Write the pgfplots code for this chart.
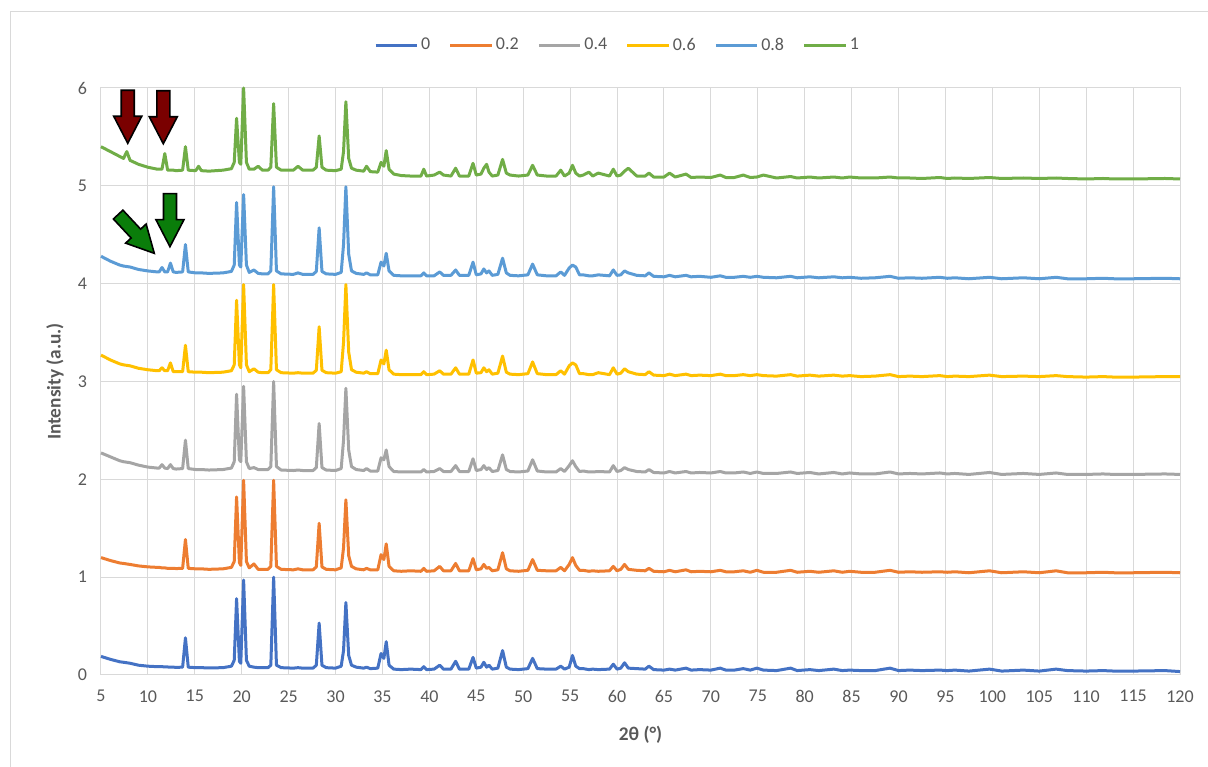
\documentclass[border=0pt]{standalone}
\usepackage{fontspec}
\setmainfont{Carlito}
\usepackage{pgfplots}
\usepackage{pgfplotstable}
\pgfplotsset{compat=1.18}
\definecolor{cA}{HTML}{4472C4}
\definecolor{cB}{HTML}{ED7D31}
\definecolor{cC}{HTML}{A5A5A5}
\definecolor{cD}{HTML}{FFC000}
\definecolor{cE}{HTML}{5B9BD5}
\definecolor{cF}{HTML}{70AD47}
\definecolor{gridgray}{HTML}{D9D9D9}
\definecolor{tickgray}{HTML}{595959}
\definecolor{arrred}{HTML}{7A0000}
\definecolor{arrgreen}{HTML}{0A7D0A}

\pgfplotstableread{
x a b c d e f
5 0.19 1.20 2.27 3.27 4.28 5.40
6 0.16 1.17 2.23 3.22 4.23 5.35
7 0.135 1.145 2.19 3.18 4.19 5.30
7.4 0.13 1.14 2.18 3.17 4.18 5.28
7.75 0.125 1.135 2.175 3.165 4.175 5.35
8.1 0.12 1.13 2.17 3.16 4.17 5.26
9 0.10 1.115 2.145 3.135 4.145 5.22
10 0.09 1.105 2.125 3.12 4.13 5.19
11 0.085 1.10 2.115 3.11 4.12 5.17
11.2 0.085 1.10 2.115 3.11 4.12 5.17
11.5 0.085 1.095 2.15 3.14 4.165 5.17
11.8 0.083 1.095 2.115 3.11 4.12 5.33
12.1 0.082 1.09 2.11 3.11 4.12 5.16
12.4 0.08 1.09 2.15 3.19 4.21 5.16
12.7 0.08 1.09 2.11 3.10 4.12 5.16
13 0.078 1.088 2.105 3.10 4.115 5.155
13.7 0.08 1.09 2.11 3.10 4.12 5.16
14.0 0.38 1.385 2.40 3.37 4.40 5.40
14.3 0.08 1.09 2.11 3.10 4.12 5.16
15.1 0.075 1.085 2.10 3.095 4.11 5.155
15.4 0.075 1.085 2.10 3.095 4.11 5.20
15.7 0.075 1.085 2.10 3.095 4.11 5.155
16.5 0.072 1.08 2.095 3.09 4.105 5.15
18 0.075 1.085 2.10 3.095 4.11 5.16
18.9 0.09 1.10 2.115 3.11 4.125 5.175
19.2 0.15 1.16 2.18 3.17 4.19 5.24
19.45 0.78 1.82 2.87 3.83 4.83 5.69
19.75 0.14 1.15 2.20 3.17 4.19 5.24
19.9 0.12 1.12 2.18 3.14 4.17 5.22
20.2 0.97 1.99 2.95 3.99 4.91 6.0
20.5 0.15 1.16 2.18 3.17 4.19 5.24
20.8 0.09 1.095 2.11 3.10 4.115 5.17
21.3 0.08 1.135 2.12 3.13 4.14 5.17
21.75 0.075 1.08 2.10 3.095 4.105 5.20
22.2 0.075 1.08 2.10 3.09 4.10 5.16
22.8 0.075 1.08 2.10 3.09 4.10 5.16
23.1 0.10 1.11 2.13 3.12 4.13 5.19
23.4 1.0 1.99 3.0 3.99 4.99 5.84
23.7 0.10 1.11 2.13 3.12 4.13 5.19
24.2 0.075 1.08 2.095 3.09 4.10 5.16
25.5 0.07 1.075 2.09 3.085 4.095 5.16
26.0 0.075 1.085 2.095 3.09 4.11 5.20
26.5 0.07 1.075 2.09 3.085 4.095 5.16
27.6 0.07 1.075 2.09 3.085 4.095 5.16
27.95 0.10 1.105 2.12 3.115 4.125 5.19
28.25 0.53 1.55 2.57 3.56 4.57 5.51
28.55 0.10 1.105 2.12 3.115 4.125 5.19
29 0.075 1.08 2.095 3.09 4.10 5.16
30 0.07 1.075 2.09 3.085 4.095 5.155
30.6 0.09 1.095 2.11 3.10 4.115 5.17
30.85 0.25 1.30 2.40 3.40 4.40 5.35
31.1 0.74 1.79 2.93 3.99 4.99 5.86
31.4 0.20 1.22 2.30 3.30 4.30 5.28
31.7 0.10 1.11 2.13 3.12 4.13 5.18
32.2 0.08 1.085 2.10 3.095 4.105 5.16
33.0 0.07 1.075 2.09 3.085 4.095 5.15
33.3 0.08 1.09 2.11 3.10 4.11 5.20
33.7 0.065 1.075 2.085 3.08 4.09 5.145
34.5 0.07 1.075 2.085 3.08 4.09 5.14
34.85 0.22 1.23 2.22 3.22 4.22 5.24
35.15 0.17 1.18 2.20 3.18 4.18 5.20
35.4 0.34 1.34 2.30 3.32 4.31 5.36
35.7 0.10 1.11 2.13 3.12 4.13 5.17
36.2 0.06 1.065 2.08 3.075 4.085 5.12
37 0.055 1.06 2.075 3.07 4.08 5.105
38 0.06 1.065 2.075 3.07 4.08 5.10
39.1 0.055 1.06 2.075 3.07 4.08 5.10
39.4 0.085 1.09 2.10 3.10 4.11 5.17
39.7 0.055 1.06 2.075 3.07 4.08 5.10
40.5 0.06 1.065 2.08 3.075 4.08 5.11
41.1 0.10 1.11 2.11 3.11 4.12 5.14
41.5 0.06 1.065 2.08 3.075 4.085 5.11
42.3 0.06 1.065 2.08 3.075 4.085 5.10
42.8 0.14 1.14 2.14 3.14 4.14 5.18
43.2 0.06 1.065 2.08 3.075 4.085 5.10
44.2 0.06 1.065 2.08 3.075 4.085 5.10
44.65 0.18 1.19 2.21 3.22 4.22 5.23
45.0 0.07 1.075 2.09 3.085 4.09 5.11
45.5 0.08 1.085 2.10 3.09 4.10 5.12
45.8 0.13 1.13 2.14 3.14 4.15 5.18
46.1 0.08 1.09 2.10 3.10 4.11 5.22
46.35 0.10 1.10 2.12 3.12 4.13 5.14
46.7 0.06 1.065 2.08 3.075 4.085 5.10
47.3 0.07 1.075 2.09 3.085 4.095 5.11
47.8 0.25 1.25 2.25 3.26 4.26 5.27
48.2 0.08 1.085 2.10 3.095 4.11 5.13
48.6 0.06 1.065 2.08 3.075 4.085 5.11
49.5 0.055 1.06 2.075 3.07 4.08 5.10
50.5 0.065 1.07 2.085 3.08 4.09 5.11
51.0 0.17 1.18 2.20 3.20 4.20 5.21
51.5 0.065 1.07 2.085 3.08 4.09 5.11
52.5 0.06 1.065 2.075 3.07 4.08 5.10
53.5 0.06 1.065 2.075 3.07 4.08 5.10
54.0 0.09 1.10 2.11 3.11 4.12 5.16
54.4 0.06 1.065 2.08 3.075 4.085 5.10
54.9 0.08 1.13 2.14 3.16 4.16 5.13
55.25 0.20 1.20 2.19 3.19 4.19 5.21
55.6 0.09 1.12 2.13 3.17 4.17 5.13
56.0 0.065 1.07 2.08 3.08 4.09 5.10
56.4 0.065 1.07 2.085 3.08 4.09 5.11
57.0 0.055 1.06 2.075 3.07 4.08 5.14
57.4 0.06 1.065 2.075 3.07 4.08 5.10
58.0 0.055 1.06 2.08 3.09 4.09 5.13
59.2 0.06 1.065 2.075 3.07 4.08 5.10
59.6 0.11 1.11 2.14 3.14 4.14 5.17
60.0 0.06 1.065 2.08 3.075 4.085 5.10
60.4 0.07 1.08 2.09 3.085 4.09 5.11
60.8 0.125 1.13 2.12 3.13 4.13 5.15
61.2 0.07 1.08 2.10 3.10 4.11 5.18
62.1 0.065 1.07 2.08 3.075 4.085 5.10
63.0 0.06 1.065 2.075 3.07 4.08 5.10
63.4 0.09 1.09 2.10 3.10 4.11 5.13
63.9 0.055 1.06 2.07 3.065 4.075 5.09
65.0 0.05 1.055 2.065 3.06 4.07 5.09
65.6 0.06 1.07 2.08 3.075 4.085 5.13
66.2 0.05 1.055 2.065 3.06 4.07 5.09
67.35 0.07 1.075 2.08 3.075 4.085 5.12
67.9 0.05 1.055 2.065 3.06 4.07 5.085
68.8 0.055 1.06 2.07 3.065 4.075 5.09
70.0 0.05 1.055 2.065 3.06 4.065 5.085
71.0 0.07 1.07 2.08 3.075 4.08 5.11
71.6 0.05 1.055 2.065 3.06 4.065 5.085
72.5 0.05 1.055 2.065 3.06 4.065 5.085
73.45 0.065 1.065 2.075 3.07 4.075 5.11
74.2 0.05 1.05 2.06 3.06 4.065 5.085
74.9 0.07 1.07 2.075 3.07 4.075 5.09
75.6 0.05 1.05 2.06 3.06 4.065 5.11
77 0.045 1.05 2.06 3.055 4.06 5.08
78.5 0.07 1.07 2.075 3.07 4.075 5.095
79.2 0.045 1.05 2.06 3.055 4.06 5.08
80.55 0.055 1.06 2.07 3.065 4.07 5.09
81.5 0.045 1.05 2.055 3.055 4.06 5.08
83.1 0.06 1.065 2.07 3.065 4.07 5.09
84 0.045 1.05 2.055 3.055 4.06 5.08
84.8 0.05 1.06 2.065 3.06 4.065 5.09
86 0.045 1.05 2.055 3.05 4.055 5.08
87.5 0.045 1.05 2.055 3.055 4.06 5.08
89.1 0.07 1.07 2.075 3.07 4.075 5.09
90 0.045 1.05 2.055 3.05 4.055 5.08
91.2 0.05 1.055 2.06 3.055 4.06 5.08
92.5 0.045 1.05 2.055 3.05 4.055 5.075
94.4 0.05 1.055 2.065 3.06 4.065 5.085
95.2 0.045 1.05 2.055 3.05 4.055 5.075
96 0.05 1.055 2.06 3.055 4.06 5.08
97.5 0.04 1.045 2.05 3.05 4.05 5.075
99.7 0.06 1.065 2.07 3.065 4.065 5.085
101 0.04 1.045 2.05 3.05 4.05 5.075
103.3 0.05 1.055 2.06 3.055 4.06 5.08
105 0.04 1.045 2.05 3.05 4.05 5.075
106.8 0.06 1.065 2.065 3.06 4.065 5.08
108 0.045 1.045 2.05 3.05 4.05 5.075
110 0.04 1.045 2.05 3.045 4.05 5.07
111.8 0.045 1.05 2.055 3.05 4.055 5.075
113 0.04 1.045 2.05 3.045 4.05 5.07
115 0.04 1.045 2.05 3.045 4.05 5.07
118.4 0.045 1.05 2.055 3.05 4.055 5.075
120 0.035 1.045 2.05 3.05 4.05 5.07
}\data

\newcommand{\arrowpoly}{(0,0) -- (10.5pt,20.25pt) -- (4.875pt,20.25pt) -- (4.875pt,39.75pt) -- (-4.875pt,39.75pt) -- (-4.875pt,20.25pt) -- (-10.5pt,20.25pt) -- cycle}

\begin{document}
\begin{tikzpicture}
\useasboundingbox (-75.75pt,-69pt) rectangle (830.25pt,506.25pt);
\draw[gridgray, line width=0.75pt] (-67.5pt,-70pt) -- (-67.5pt,497.25pt) -- (835pt,497.25pt);
\begin{axis}[
  at={(0pt,0pt)}, anchor=south west,
  scale only axis, width=809.25pt, height=440.25pt,
  xmin=5, xmax=120, ymin=0, ymax=6,
  xtick={5,10,...,120}, ytick={0,1,...,6},
  grid=major,
  major grid style={draw=gridgray, line width=0.75pt},
  axis line style={draw=gridgray, line width=0.75pt},
  major tick length=0pt,
  clip=false,
  /pgf/number format/assume math mode=true,
  ticklabel style={font=\fontsize{13.5}{16}\selectfont, text=tickgray},
  xticklabel style={yshift=-8pt},
  yticklabel style={xshift=-7pt},
  xlabel={\textbf{2θ (°)}},
  ylabel={\textbf{Intensity (a.u.)}},
  every axis x label/.style={at={(axis description cs:0.5,-0.102)}, anchor=center, font=\fontsize{14.5}{17}\selectfont, text=tickgray},
  every axis y label/.style={at={(axis description cs:-0.0426,0.5)}, rotate=90, anchor=center, font=\fontsize{14.5}{17}\selectfont, text=tickgray},
  legend columns=6,
  legend style={at={(0.479,1.073)}, anchor=center, draw=none, fill=none,
    font=\fontsize{13.5}{16}\selectfont, text=tickgray,
    /tikz/every even column/.append style={column sep=12pt}},
  legend image code/.code={\draw[#1] (0pt,0pt) -- (31pt,0pt);},
  every axis plot/.append style={line width=2.25pt, line join=round, mark=none},
]
\addplot[cA] table[x=x,y=a] {\data};
\addlegendentry{0}
\addplot[cB] table[x=x,y=b] {\data};
\addlegendentry{0.2}
\addplot[cC] table[x=x,y=c] {\data};
\addlegendentry{0.4}
\addplot[cD] table[x=x,y=d] {\data};
\addlegendentry{0.6}
\addplot[cE] table[x=x,y=e] {\data};
\addlegendentry{0.8}
\addplot[cF] table[x=x,y=f] {\data};
\addlegendentry{1}
\coordinate (r1) at (axis cs:7.85,5.435);
\coordinate (r2) at (axis cs:11.64,5.43);
\coordinate (g1) at (axis cs:12.35,4.378);
\coordinate (g2) at (axis cs:10.68,4.31);
\end{axis}
\begin{scope}[shift={(r1)}]
\draw[black, line width=1.2pt, fill=arrred, line join=miter] \arrowpoly;
\end{scope}
\begin{scope}[shift={(r2)}]
\draw[black, line width=1.2pt, fill=arrred, line join=miter] \arrowpoly;
\end{scope}
\begin{scope}[shift={(g1)}]
\draw[black, line width=1.2pt, fill=arrgreen, line join=miter] \arrowpoly;
\end{scope}
\begin{scope}[shift={(g2)}, rotate=43]
\draw[black, line width=1.2pt, fill=arrgreen, line join=miter] \arrowpoly;
\end{scope}
\end{tikzpicture}
\end{document}
